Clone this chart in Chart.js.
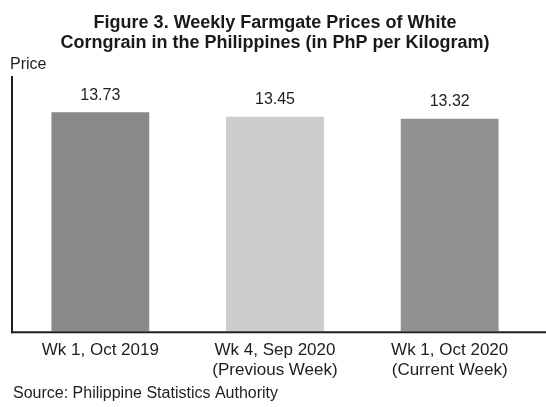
<!DOCTYPE html>
<html>
<head>
<meta charset="utf-8">
<script src="https://cdn.jsdelivr.net/npm/chart.js@4.4.0/dist/chart.umd.min.js"></script>
<style>
  html, body { margin: 0; padding: 0; background: #fff; }
  #wrap { position: relative; width: 546px; height: 407px; }
</style>
</head>
<body>
<div id="wrap"><canvas id="c" width="546" height="407"></canvas></div>
<script>
const categories = [
  ['Wk 1, Oct 2019'],
  ['Wk 4, Sep 2020', '(Previous Week)'],
  ['Wk 1, Oct 2020', '(Current Week)']
];
const prices = [13.73, 13.45, 13.32];
const barColors = ['#898989', '#cdcdcd', '#919191'];
const titleLines = ['Figure 3. Weekly Farmgate Prices of White', 'Corngrain in the Philippines (in PhP per Kilogram)'];
const yLabel = 'Price';
const sourceText = 'Source: Philippine Statistics Authority';

const FONT = '"Liberation Sans", Arial, sans-serif';

const valueLabels = {
  id: 'valueLabels',
  afterDatasetsDraw(chart) {
    const ctx = chart.ctx;
    const meta = chart.getDatasetMeta(0);
    ctx.save();
    ctx.font = '16px ' + FONT;
    ctx.fillStyle = '#1e1e1e';
    ctx.textAlign = 'center';
    ctx.textBaseline = 'bottom';
    meta.data.forEach((el, i) => {
      ctx.fillText(prices[i].toFixed(2), el.x, el.y - 9);
    });
    ctx.restore();
  }
};

const extras = {
  id: 'extras',
  afterDraw(chart) {
    const ctx = chart.ctx;
    const area = chart.chartArea;
    ctx.save();
    ctx.strokeStyle = '#1e1e1e';
    ctx.lineWidth = 2;
    // y axis line
    ctx.beginPath();
    ctx.moveTo(area.left - 1, area.top);
    ctx.lineTo(area.left - 1, area.bottom + 2);
    ctx.stroke();
    // x axis line, to the right edge
    ctx.beginPath();
    ctx.moveTo(area.left - 2, area.bottom + 1);
    ctx.lineTo(chart.width, area.bottom + 1);
    ctx.stroke();
    // y label
    ctx.font = '16px ' + FONT;
    ctx.fillStyle = '#1e1e1e';
    ctx.textAlign = 'left';
    ctx.textBaseline = 'alphabetic';
    ctx.fillText(yLabel, 10, 69);
    // source
    ctx.font = '16px ' + FONT;
    ctx.fillText(sourceText, 13, 398);
    ctx.restore();
  }
};

new Chart(document.getElementById('c'), {
  type: 'bar',
  data: {
    labels: categories,
    datasets: [{
      data: prices,
      backgroundColor: barColors,
      borderWidth: 0,
      barPercentage: 0.56,
      categoryPercentage: 1.0
    }]
  },
  options: {
    responsive: false,
    animation: false,
    layout: { padding: { left: 13, right: 9, top: 0, bottom: 17 } },
    plugins: {
      legend: { display: false },
      tooltip: { enabled: false },
      title: {
        display: true,
        text: titleLines,
        color: '#1a1a1a',
        font: { family: FONT, size: 18, weight: 'bold', lineHeight: 1.11 },
        padding: { top: 13, bottom: 23 }
      }
    },
    scales: {
      x: {
        grid: { display: false, drawTicks: false },
        border: { display: false },
        ticks: {
          color: '#1e1e1e',
          font: { family: FONT, size: 17, lineHeight: 1.2 },
          padding: 9,
          maxRotation: 0,
          autoSkip: false
        }
      },
      y: {
        min: 0,
        max: 16,
        grid: { display: false, drawTicks: false },
        border: { display: false },
        ticks: { display: false }
      }
    }
  },
  plugins: [valueLabels, extras]
});
</script>
</body>
</html>
